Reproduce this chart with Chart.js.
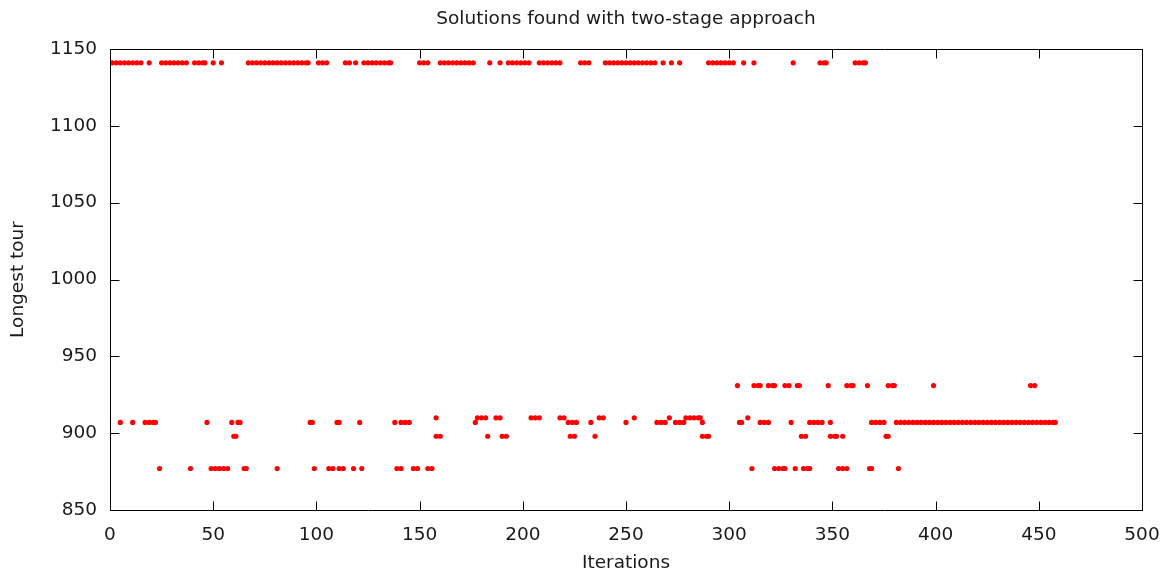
<!DOCTYPE html>
<html>
<head>
<meta charset="utf-8">
<title>Solutions found with two-stage approach</title>
<script src="https://cdn.jsdelivr.net/npm/chart.js@4.4.0/dist/chart.umd.min.js"></script>
<style>
  html, body { margin: 0; padding: 0; background: #fff; }
  #wrap { width: 1171px; height: 574px; }
</style>
</head>
<body>
<div id="wrap"><canvas id="myChart" width="1171" height="574"></canvas></div>
<script>
// tick labels
var xTicks = [0, 50, 100, 150, 200, 250, 300, 350, 400, 450, 500];
var yTicks = [850, 900, 950, 1000, 1050, 1100, 1150];

// tour lengths found, and the iterations where each one shows up
var levels = [1141, 931, 910, 907, 898, 877];

var iters1141 = [1,3,5,7,9,11,13,15,19,25,27,29,31,33,35,37,41,43,45,46,50,54,
  67,69,71,73,75,77,79,81,83,85,87,89,91,93,95,96,101,103,105,114,116,119,
  123,125,127,129,131,133,135,136,150,152,154,160,162,164,166,168,170,172,174,176,
  184,189,193,195,197,199,201,203,208,210,212,214,216,218,228,230,232,
  240,242,244,246,248,250,252,254,256,258,260,262,264,268,272,276,
  290,292,294,296,298,300,302,307,312,331,344,346,347,361,363,365,366];
var iters931 = [304,312,314,315,319,321,322,327,329,333,334,348,357,359,360,367,377,379,380,399,446,448];
var iters910 = [158,178,180,182,187,189,204,206,208,218,220,237,239,254,271,279,281,283,285,286,309];
var iters907 = [5,11,17,19,21,22,47,59,62,63,97,98,110,111,121,138,141,143,145,177,
  222,224,226,233,250,265,267,269,274,276,278,287,305,306,315,317,319,330,
  339,341,343,345,349,369,371,373,375,
  381,383,385,387,389,391,393,395,397,399,401,403,405,407,409,411,413,415,417,419,
  421,423,425,427,429,431,433,435,437,439,441,443,445,447,449,451,453,455,457,458];
var iters898 = [60,61,158,160,183,190,192,223,225,235,287,289,290,335,337,349,351,352,355,376,377];
var iters877 = [24,39,49,51,53,55,57,65,66,81,99,106,108,111,113,118,122,139,141,147,149,154,156,
  311,322,324,326,327,332,336,338,339,353,355,357,368,369,382];

var itersByLevel = [iters1141, iters931, iters910, iters907, iters898, iters877];

var FONT = { family: "'DejaVu Sans', Verdana, sans-serif", size: 18.5, weight: 'normal', lineHeight: 1 };
var TEXT = '#1a1a1a';

// gnuplot style frame with inward ticks on all four sides
var framePlugin = {
  id: 'frame',
  afterDatasetsDraw: function(chart) {
    var ctx = chart.ctx, a = chart.chartArea;
    var xs = chart.scales.x, ys = chart.scales.y;
    var L = Math.round(a.left) + 0.5, R = Math.round(a.right) + 0.5;
    var T = Math.round(a.top) + 0.5, B = Math.round(a.bottom) + 0.5;
    var tl = 9;
    ctx.save();
    ctx.strokeStyle = '#000';
    ctx.lineWidth = 1;
    ctx.beginPath();
    ctx.rect(L, T, R - L, B - T);
    for (var i = 0; i < xs.ticks.length; i++) {
      var px = Math.round(xs.getPixelForValue(xs.ticks[i].value)) + 0.5;
      ctx.moveTo(px, B); ctx.lineTo(px, B - tl);
      ctx.moveTo(px, T); ctx.lineTo(px, T + tl);
    }
    for (var j = 0; j < ys.ticks.length; j++) {
      var py = Math.round(ys.getPixelForValue(ys.ticks[j].value)) + 0.5;
      ctx.moveTo(L, py); ctx.lineTo(L + tl, py);
      ctx.moveTo(R, py); ctx.lineTo(R - tl, py);
    }
    ctx.stroke();
    ctx.restore();
  }
};

var points = [];
for (var k = 0; k < levels.length; k++) {
  var its = itersByLevel[k];
  for (var m = 0; m < its.length; m++) points.push({ x: its[m], y: levels[k] });
}

var chart = new Chart(document.getElementById('myChart').getContext('2d'), {
  type: 'scatter',
  data: {
    datasets: [{
      label: 'solutions',
      data: points,
      pointRadius: 2.6,
      pointHoverRadius: 2.6,
      pointBackgroundColor: '#ff0000',
      pointBorderWidth: 0,
      borderWidth: 0
    }]
  },
  options: {
    responsive: false,
    animation: false,
    devicePixelRatio: 1,
    layout: { padding: { left: 0, right: 29, top: 0, bottom: 0 } },
    plugins: {
      legend: { display: false },
      tooltip: { enabled: false },
      title: {
        display: true,
        fullSize: false,
        text: 'Solutions found with two-stage approach',
        color: TEXT,
        font: FONT,
        padding: { top: 9.5, bottom: 21 }
      }
    },
    scales: {
      x: {
        type: 'linear',
        min: 0, max: 500,
        afterBuildTicks: function(s) { s.ticks = xTicks.map(function(v) { return { value: v }; }); },
        afterFit: function(s) { s.height = 64; },
        grid: { display: false },
        border: { display: false },
        ticks: { color: TEXT, font: FONT, padding: 8, maxRotation: 0, autoSkip: false,
                 callback: function(v) { return String(v); } },
        title: { display: true, text: 'Iterations', color: TEXT, font: FONT, padding: { top: 0, bottom: 1.5 } }
      },
      y: {
        type: 'linear',
        min: 850, max: 1150,
        afterBuildTicks: function(s) { s.ticks = yTicks.map(function(v) { return { value: v }; }); },
        afterFit: function(s) { s.width = 110; },
        grid: { display: false },
        border: { display: false },
        ticks: { color: TEXT, font: FONT, padding: 5, autoSkip: false,
                 callback: function(v) { return String(v); } },
        title: { display: true, text: 'Longest tour', color: TEXT, font: FONT, padding: { top: 8.5, bottom: 0 } }
      }
    }
  },
  plugins: [framePlugin]
});
</script>
</body>
</html>
